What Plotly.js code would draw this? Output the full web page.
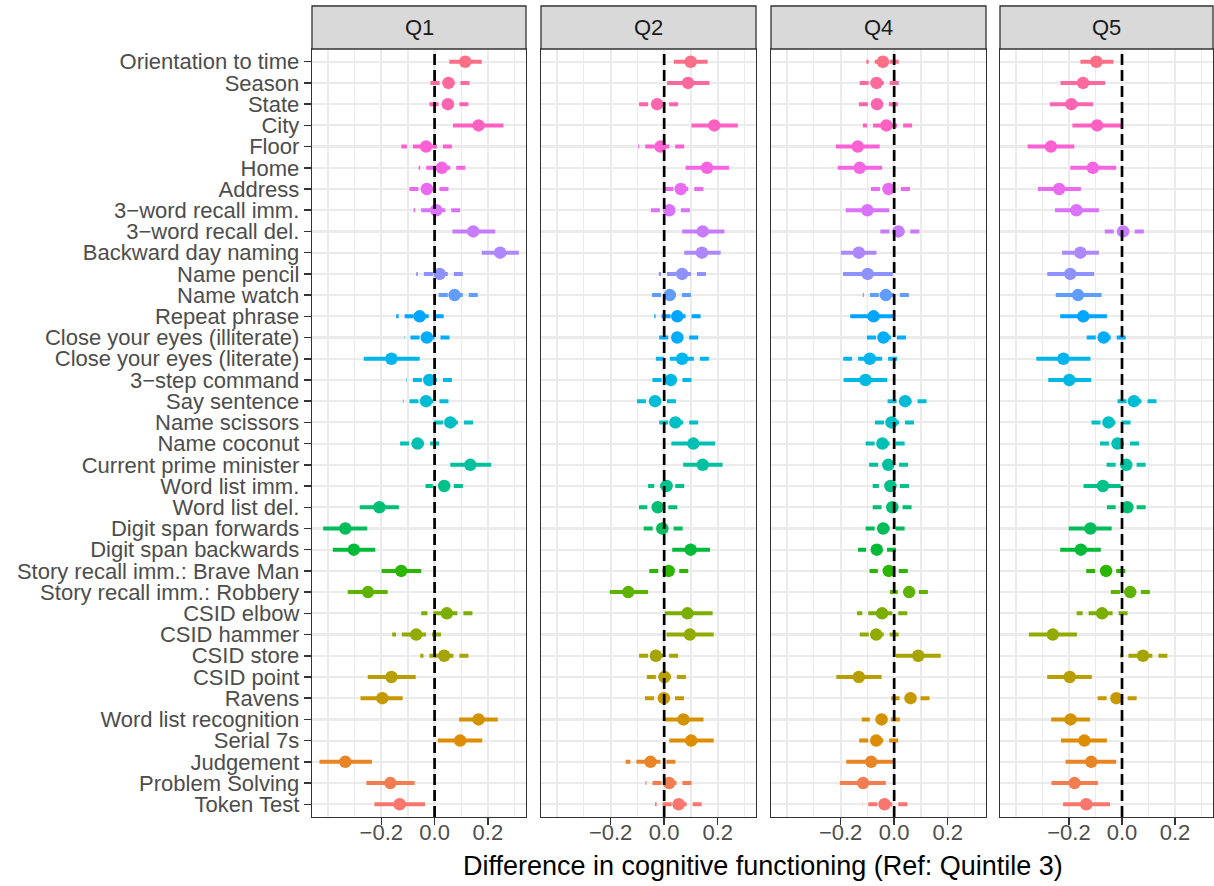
<!DOCTYPE html>
<html><head><meta charset="utf-8">
<script src="https://cdn.plot.ly/plotly-3.0.1.min.js"></script>
<style>html,body{margin:0;padding:0;background:#fff}#chart{width:1214px;height:886px}</style>
</head><body><div id="chart"></div>
<script>
const items = ["Orientation to time","Season","State","City","Floor","Home","Address","3\u2212word recall imm.","3\u2212word recall del.","Backward day naming","Name pencil","Name watch","Repeat phrase","Close your eyes (illiterate)","Close your eyes (literate)","3\u2212step command","Say sentence","Name scissors","Name coconut","Current prime minister","Word list imm.","Word list del.","Digit span forwards","Digit span backwards","Story recall imm.: Brave Man","Story recall imm.: Robbery","CSID elbow","CSID hammer","CSID store","CSID point","Ravens","Word list recognition","Serial 7s","Judgement","Problem Solving","Token Test"];
const panels = ["Q1","Q2","Q4","Q5"];
const xTicks = [-0.2, 0, 0.2];
const xMinor = [-0.4, -0.3, -0.1, 0.1, 0.3];

const q1_est = [0.115,0.052,0.05,0.165,-0.032,0.027,-0.029,0.006,0.145,0.246,0.019,0.075,-0.056,-0.029,-0.162,-0.02,-0.032,0.059,-0.064,0.134,0.036,-0.207,-0.335,-0.303,-0.125,-0.25,0.046,-0.069,0.036,-0.162,-0.196,0.165,0.096,-0.335,-0.166,-0.131];
const q1_lo  = [0.055,-0.026,-0.026,0.069,-0.125,-0.06,-0.106,-0.079,0.067,0.177,-0.069,-0.007,-0.144,-0.114,-0.266,-0.106,-0.119,-0.025,-0.141,0.059,-0.034,-0.281,-0.418,-0.382,-0.199,-0.326,-0.05,-0.159,-0.054,-0.251,-0.278,0.092,0.012,-0.432,-0.256,-0.226];
const q1_hi  = [0.177,0.131,0.127,0.258,0.065,0.115,0.052,0.096,0.227,0.316,0.106,0.162,0.034,0.056,-0.056,0.065,0.052,0.144,0.017,0.212,0.106,-0.134,-0.253,-0.223,-0.05,-0.176,0.142,0.024,0.127,-0.071,-0.12,0.237,0.179,-0.235,-0.075,-0.036];

const q2_est = [0.099,0.089,-0.026,0.187,-0.014,0.16,0.062,0.019,0.144,0.141,0.067,0.021,0.049,0.049,0.067,0.025,-0.034,0.042,0.109,0.144,0.009,-0.024,-0.007,0.099,0.017,-0.134,0.087,0.096,-0.031,0.001,-0.001,0.072,0.101,-0.051,0.019,0.054];
const q2_lo  = [0.036,0.011,-0.106,0.102,-0.097,0.08,-0.022,-0.06,0.067,0.075,-0.02,-0.064,-0.037,-0.029,-0.031,-0.057,-0.114,-0.041,0.027,0.071,-0.06,-0.094,-0.087,0.03,-0.057,-0.203,0.002,0.009,-0.114,-0.082,-0.072,0.002,0.019,-0.144,-0.07,-0.034];
const q2_hi  = [0.162,0.169,0.052,0.275,0.075,0.242,0.146,0.096,0.225,0.211,0.156,0.1,0.136,0.127,0.167,0.102,0.044,0.127,0.19,0.218,0.075,0.049,0.069,0.171,0.09,-0.06,0.181,0.185,0.052,0.081,0.074,0.147,0.185,0.042,0.102,0.14];

const q4_est = [-0.042,-0.066,-0.064,-0.029,-0.136,-0.129,-0.021,-0.1,0.016,-0.132,-0.099,-0.031,-0.077,-0.04,-0.091,-0.107,0.041,-0.01,-0.044,-0.022,-0.014,-0.007,-0.041,-0.065,-0.02,0.056,-0.045,-0.067,0.09,-0.132,0.061,-0.047,-0.067,-0.086,-0.116,-0.036];
const q4_lo  = [-0.104,-0.149,-0.141,-0.117,-0.218,-0.211,-0.104,-0.181,-0.067,-0.199,-0.191,-0.117,-0.164,-0.122,-0.19,-0.189,-0.036,-0.091,-0.126,-0.095,-0.08,-0.08,-0.122,-0.135,-0.092,-0.016,-0.139,-0.151,0.007,-0.216,-0.011,-0.121,-0.151,-0.179,-0.203,-0.12];
const q4_hi  = [0.017,0.017,0.014,0.067,-0.054,-0.045,0.059,-0.019,0.094,-0.066,-0.005,0.055,-0.002,0.044,0.011,-0.026,0.121,0.074,0.039,0.052,0.055,0.065,0.039,0.007,0.051,0.126,0.049,0.017,0.174,-0.047,0.132,0.021,0.015,-0.001,-0.031,0.049];

const q5_est = [-0.097,-0.147,-0.191,-0.094,-0.268,-0.11,-0.237,-0.172,0.004,-0.157,-0.195,-0.166,-0.146,-0.069,-0.221,-0.199,0.045,-0.051,-0.017,0.016,-0.072,0.02,-0.119,-0.155,-0.06,0.031,-0.075,-0.261,0.079,-0.197,-0.021,-0.194,-0.142,-0.116,-0.179,-0.135];
const q5_lo  = [-0.157,-0.232,-0.272,-0.187,-0.356,-0.195,-0.317,-0.253,-0.08,-0.226,-0.282,-0.25,-0.233,-0.154,-0.323,-0.278,-0.039,-0.136,-0.099,-0.064,-0.145,-0.057,-0.201,-0.233,-0.135,-0.045,-0.171,-0.351,-0.007,-0.282,-0.096,-0.267,-0.23,-0.213,-0.266,-0.222];
const q5_hi  = [-0.032,-0.064,-0.109,-0.001,-0.18,-0.022,-0.155,-0.087,0.082,-0.087,-0.105,-0.077,-0.057,0.014,-0.119,-0.116,0.13,0.032,0.064,0.089,-0.005,0.089,-0.039,-0.08,0.012,0.105,0.021,-0.17,0.171,-0.114,0.055,-0.121,-0.057,-0.022,-0.091,-0.045];

const series = [[q1_est,q1_lo,q1_hi],[q2_est,q2_lo,q2_hi],[q4_est,q4_lo,q4_hi],[q5_est,q5_lo,q5_hi]];

// ggplot2 hue palette (HCL, c=100, l=65)
function hcl(h, c, l) {
  const hr = h * Math.PI / 180;
  const U = c * Math.cos(hr), V = c * Math.sin(hr);
  const Xn = 95.047, Yn = 100, Zn = 108.883;
  const den = Xn + 15 * Yn + 3 * Zn;
  const un = 4 * Xn / den, vn = 9 * Yn / den;
  const Y = l > 8 ? Yn * Math.pow((l + 16) / 116, 3) : Yn * l / 903.3;
  const u = U / (13 * l) + un, v = V / (13 * l) + vn;
  const X = 9 * Y * u / (4 * v);
  const Z = -X / 3 - 5 * Y + 3 * Y / v;
  const x = X / 100, y = Y / 100, z = Z / 100;
  const lin = [3.240479*x - 1.537150*y - 0.498535*z,
               -0.969256*x + 1.875992*y + 0.041556*z,
               0.055648*x - 0.204043*y + 1.057311*z];
  const out = lin.map(t => {
    let g = t <= 0.0031308 ? 12.92 * t : 1.055 * Math.pow(t, 1 / 2.4) - 0.055;
    g = Math.max(0, Math.min(1, g));
    return Math.round(g * 255);
  });
  return 'rgb(' + out.join(',') + ')';
}
const n = items.length;
const colors = items.map((_, i) => hcl(15 + 10 * (n - 1 - i), 100, 65));

const W = 1214, H = 886;
const panelPx = [[312, 526], [541, 756], [771, 986], [1000, 1213]];
const plotTop = 49, plotBot = 817, stripTop = 6;
const yDom = [(H - plotBot) / H, (H - plotTop) / H];
const xRange = [-0.46, 0.343];

const traces = [];
const layout = {
  width: W, height: H, autosize: false,
  margin: {l: 0, r: 0, t: 0, b: 0},
  paper_bgcolor: '#ffffff', plot_bgcolor: '#ffffff',
  showlegend: false,
  font: {family: 'Liberation Sans, Arial, sans-serif', color: '#4D4D4D', size: 22},
  shapes: [], annotations: []
};

panels.forEach((name, p) => {
  const xa = p === 0 ? 'x' : 'x' + (p + 1);
  const ya = p === 0 ? 'y' : 'y' + (p + 1);
  const [est, lo, hi] = series[p];
  for (let i = 0; i < n; i++) {
    const sig = lo[i] > 0 || hi[i] < 0;
    traces.push({
      type: 'scatter', mode: 'lines', xaxis: xa, yaxis: ya,
      x: [hi[i], lo[i]], y: [items[i], items[i]],
      line: {color: colors[i], width: 4, dash: sig ? 'solid' : '9px,6px'},
      hoverinfo: 'skip', showlegend: false
    });
  }
  traces.push({
    type: 'scatter', mode: 'markers', xaxis: xa, yaxis: ya,
    x: est, y: items,
    marker: {color: colors, size: 12.5, line: {width: 0}},
    showlegend: false
  });
  const xKey = p === 0 ? 'xaxis' : 'xaxis' + (p + 1);
  const yKey = p === 0 ? 'yaxis' : 'yaxis' + (p + 1);
  layout[xKey] = {
    domain: [panelPx[p][0] / W, panelPx[p][1] / W],
    anchor: ya, range: xRange, fixedrange: true,
    tickmode: 'array', tickvals: xTicks, tickformat: '.1f',
    ticks: 'outside', ticklen: 7, tickwidth: 1.5, tickcolor: '#333333',
    ticklabelstandoff: -12,
    tickfont: {size: 22, color: '#4D4D4D'},
    showgrid: true, gridcolor: '#EBEBEB', gridwidth: 2.2,
    minor: {tickmode: 'array', tickvals: xMinor, showgrid: true, gridcolor: '#EBEBEB', gridwidth: 1.2, ticks: ''},
    zeroline: false, showline: true, mirror: true, linecolor: '#333333', linewidth: 1.3
  };
  layout[yKey] = {
    domain: yDom, anchor: xa, type: 'category',
    categoryorder: 'array', categoryarray: items,
    tickmode: 'array', tickvals: items, ticktext: items,
    range: [n - 1 + 0.6, -0.6], fixedrange: true,
    ticks: p === 0 ? 'outside' : '', ticklen: 7, tickwidth: 1.5, tickcolor: '#333333',
    showticklabels: p === 0,
    tickfont: {size: 22, color: '#4D4D4D'},
    showgrid: true, gridcolor: '#EBEBEB', gridwidth: 2.2,
    zeroline: false, showline: true, mirror: true, linecolor: '#333333', linewidth: 1.3
  };
  // strip
  layout.shapes.push({
    type: 'rect', xref: 'paper', yref: 'paper', layer: 'above',
    x0: panelPx[p][0] / W, x1: panelPx[p][1] / W,
    y0: (H - plotTop) / H, y1: (H - stripTop) / H,
    fillcolor: '#D9D9D9', line: {color: '#333333', width: 1.3}
  });
  layout.annotations.push({
    xref: 'paper', yref: 'paper', showarrow: false,
    x: (panelPx[p][0] + panelPx[p][1]) / 2 / W, y: (H - (plotTop + stripTop) / 2) / H,
    xanchor: 'center', yanchor: 'middle', text: name,
    font: {size: 22, color: '#1A1A1A'}
  });
  // reference line at zero
  layout.shapes.push({
    type: 'line', xref: xa, yref: ya + ' domain', layer: 'above',
    x0: 0, x1: 0, y0: 0, y1: 1,
    line: {color: '#000000', width: 2.7, dash: '11px,5px'}
  });
});

layout.annotations.push({
  xref: 'paper', yref: 'paper', showarrow: false,
  x: (panelPx[0][0] + panelPx[3][1]) / 2 / W, y: (H - 866) / H,
  xanchor: 'center', yanchor: 'middle',
  text: 'Difference in cognitive functioning (Ref: Quintile 3)',
  font: {size: 27, color: '#000000'}
});

Plotly.newPlot('chart', traces, layout, {displayModeBar: false, staticPlot: true});
</script>
</body></html>
